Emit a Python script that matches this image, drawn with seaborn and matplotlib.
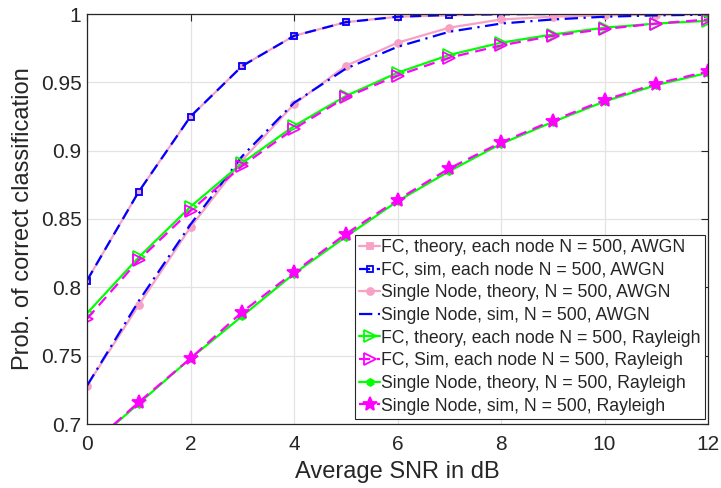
import numpy as np
import pandas as pd
import matplotlib
matplotlib.use("Agg")
import matplotlib.pyplot as plt
import seaborn as sns
from matplotlib.ticker import FuncFormatter

# -------------------------
# Data
# -------------------------
snr_db = [0, 1, 2, 3, 4, 5, 6, 7, 8, 9, 10, 11, 12]

fc_theory_awgn = [0.805, 0.870, 0.925, 0.962, 0.984, 0.994, 0.998, 0.999, 1.000, 1.000, 1.000, 1.000, 1.000]
fc_sim_awgn = [0.805, 0.870, 0.925, 0.962, 0.984, 0.994, 0.998, 0.9993, 0.9998, 1.000, 1.000, 1.000, 1.000]
single_theory_awgn = [0.728, 0.787, 0.844, 0.893, 0.934, 0.962, 0.979, 0.990, 0.996, 0.998, 0.999, 0.9995, 1.000]
single_sim_awgn = [0.728, 0.790, 0.846, 0.896, 0.935, 0.960, 0.976, 0.987, 0.993, 0.996, 0.998, 0.999, 0.9995]
fc_theory_ray = [0.781, 0.822, 0.859, 0.891, 0.918, 0.940, 0.957, 0.970, 0.979, 0.985, 0.990, 0.993, 0.995]
fc_sim_ray = [0.777, 0.820, 0.856, 0.889, 0.916, 0.939, 0.955, 0.968, 0.977, 0.984, 0.989, 0.993, 0.996]
single_theory_ray = [0.682, 0.715, 0.748, 0.779, 0.810, 0.837, 0.863, 0.885, 0.905, 0.921, 0.936, 0.948, 0.957]
single_sim_ray = [0.682, 0.716, 0.748, 0.782, 0.811, 0.839, 0.864, 0.887, 0.906, 0.922, 0.937, 0.949, 0.958]

labels = [
    "FC, theory, each node N = 500, AWGN",
    "FC, sim, each node N = 500, AWGN",
    "Single Node, theory, N = 500, AWGN",
    "Single Node, sim, N = 500, AWGN",
    "FC, theory, each node N = 500, Rayleigh",
    "FC, Sim, each node N = 500, Rayleigh",
    "Single Node, theory, N = 500, Rayleigh",
    "Single Node, sim, N = 500, Rayleigh",
]

PINK = "#F7A1C4"
BLUE = "#0000FF"
GREEN = "#00FF00"
MAGENTA = "#FF00FF"

# style per series: color, linestyle, marker, markersize, facecolor
styles = [
    dict(color=PINK, ls="-", marker="s", ms=5, mfc=PINK, lw=1.6),
    dict(color=BLUE, ls=(0, (5, 3)), marker="s", ms=5, mfc="none", lw=1.6),
    dict(color=PINK, ls="-", marker="o", ms=5, mfc=PINK, lw=1.6),
    dict(color=BLUE, ls=(0, (6, 2.5, 1, 2.5)), marker=None, ms=0, mfc="none", lw=1.6),
    dict(color=GREEN, ls="-", marker=">", ms=8, mfc="none", lw=1.6),
    dict(color=MAGENTA, ls=(0, (5, 3)), marker=">", ms=8, mfc="none", lw=1.6),
    dict(color=GREEN, ls="-", marker="h", ms=5, mfc=GREEN, lw=1.6),
    dict(color=MAGENTA, ls=(0, (5, 3)), marker="*", ms=10, mfc=MAGENTA, lw=1.6),
]

series = [fc_theory_awgn, fc_sim_awgn, single_theory_awgn, single_sim_awgn,
          fc_theory_ray, fc_sim_ray, single_theory_ray, single_sim_ray]


def main():
    sns.set_theme(style="whitegrid")
    plt.rcParams["font.family"] = ["Liberation Sans", "DejaVu Sans"]

    fig = plt.figure(figsize=(7.21, 4.88), dpi=100)
    ax = fig.add_axes([87 / 721, 64 / 488, 621 / 721, 410 / 488])

    for y, lab, st in zip(series, labels, styles):
        df = pd.DataFrame({"snr": snr_db, "p": y})
        sns.lineplot(
            data=df, x="snr", y="p", ax=ax, label=lab,
            color=st["color"], linestyle=st["ls"], linewidth=st["lw"],
            marker=st["marker"], markersize=st["ms"],
            markerfacecolor=st["mfc"], markeredgecolor=st["color"],
            markeredgewidth=1.3, clip_on=True,
        )

    ax.set_xlim(0, 12)
    ax.set_ylim(0.7, 1.0)
    ax.set_xticks(range(0, 13, 2))
    ax.set_yticks([0.7, 0.75, 0.8, 0.85, 0.9, 0.95, 1.0])
    ax.yaxis.set_major_formatter(FuncFormatter(lambda v, p: f"{v:g}"))
    ax.tick_params(axis="both", labelsize=15, colors="#262626", direction="in",
                   length=5, top=True, right=True, width=0.8)
    ax.tick_params(axis="x", pad=8)
    ax.tick_params(axis="y", pad=4)

    ax.set_facecolor("white")
    ax.grid(True, color="#E3E3E3", linewidth=0.9)
    for sp in ax.spines.values():
        sp.set_color("#262626")
        sp.set_linewidth(0.9)

    ax.set_xlabel("Average SNR in dB", fontsize=17, color="#262626", labelpad=5)
    ax.set_ylabel("Prob. of correct classification", fontsize=17, color="#262626", labelpad=5)

    leg = ax.legend(
        loc="lower right",
        bbox_to_anchor=(705 / 721, 69 / 488),
        bbox_transform=fig.transFigure,
        fontsize=12.7,
        frameon=True,
        fancybox=False,
        edgecolor="#262626",
        framealpha=1.0,
        handlelength=1.2,
        handletextpad=0.05,
        borderpad=0.25,
        labelspacing=0.32,
        borderaxespad=0,
    )
    leg.get_frame().set_linewidth(0.8)

    fig.savefig("out.png", dpi=100)
    plt.close(fig)


if __name__ == "__main__":
    main()
